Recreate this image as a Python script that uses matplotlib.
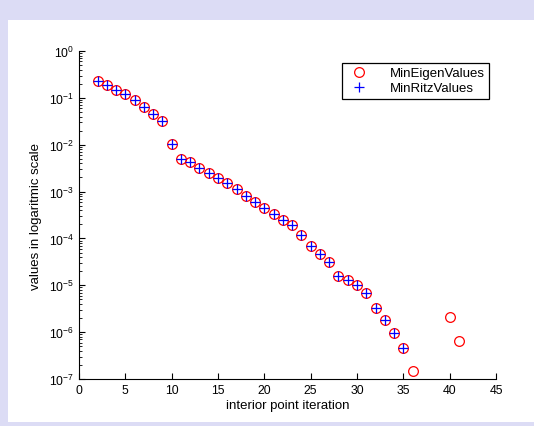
import numpy as np
import matplotlib
matplotlib.use('Agg')
import matplotlib.pyplot as plt
from matplotlib.patches import Rectangle

# Данные
iters = np.array([2, 3, 4, 5, 6, 7, 8, 9, 10, 11, 12, 13, 14, 15, 16, 17, 18, 19,
                  20, 21, 22, 23, 24, 25, 26, 27, 28, 29, 30, 31, 32, 33, 34, 35])
ritz = np.array([0.23, 0.187, 0.144, 0.122, 0.0906, 0.0623, 0.0449, 0.0313,
                 0.0103, 0.00498, 0.00438, 0.00326, 0.00255, 0.00192, 0.00156,
                 0.00112, 0.00079, 0.0006, 4.55e-4, 3.27e-4, 2.44e-4, 1.9e-4,
                 1.16e-4, 6.8e-5, 4.6e-5, 3.2e-5, 1.6e-5, 1.29e-5, 1.01e-5,
                 6.7e-6, 3.26e-6, 1.78e-6, 9.5e-7, 4.5e-7])
eig_iters = np.concatenate([iters, [36, 40, 41]])
eig = np.concatenate([ritz, [1.49e-7, 2.13e-6, 6.5e-7]])

plt.rcParams['font.family'] = ['Liberation Sans', 'DejaVu Sans']
plt.rcParams['mathtext.fontset'] = 'custom'
plt.rcParams['mathtext.rm'] = 'Liberation Sans'
plt.rcParams['mathtext.it'] = 'Liberation Sans:italic'
plt.rcParams['mathtext.default'] = 'regular'
plt.rcParams['font.size'] = 8.8

fig = plt.figure(figsize=(5.34, 4.27), dpi=100, facecolor='#dcdcf5')
# белая панель внутри сиреневой рамки
fig.patches.append(Rectangle((8 / 534, 4 / 427), 526 / 534, 402 / 427,
                             transform=fig.transFigure, facecolor='white',
                             edgecolor='none', zorder=-10))

ax = fig.add_axes([79 / 534, 1 - 380 / 427, 417 / 534, 328 / 427])
ax.set_facecolor('none')
ax.plot(eig_iters, eig, 'o', color='red', mfc='none', markersize=7,
        markeredgewidth=0.9, label='MinEigenValues')
ax.plot(iters, ritz, '+', color='blue', markersize=7,
        markeredgewidth=0.9, label='MinRitzValues')

ax.set_yscale('log')
ax.set_xlim(0, 45)
ax.set_ylim(1e-7, 1)
ax.set_xticks([0, 5, 10, 15, 20, 25, 30, 35, 40, 45])
ax.spines['top'].set_visible(False)
ax.spines['right'].set_visible(False)
ax.tick_params(direction='in', which='both', top=False, right=False)
ax.tick_params(which='major', length=4)
ax.tick_params(which='minor', length=2)
ax.set_xlabel('interior point iteration', fontsize=9.5, labelpad=2)
ax.set_ylabel('values in logaritmic scale', fontsize=9.5, labelpad=5)

leg = ax.legend(loc='upper right', bbox_to_anchor=(1.0, 0.985),
                fancybox=False, framealpha=1, edgecolor='black', fontsize=9.5,
                handletextpad=1.3, borderpad=0.35, labelspacing=0.2)
leg.get_frame().set_linewidth(0.9)

plt.savefig('out.png', dpi=100, facecolor=fig.get_facecolor())
